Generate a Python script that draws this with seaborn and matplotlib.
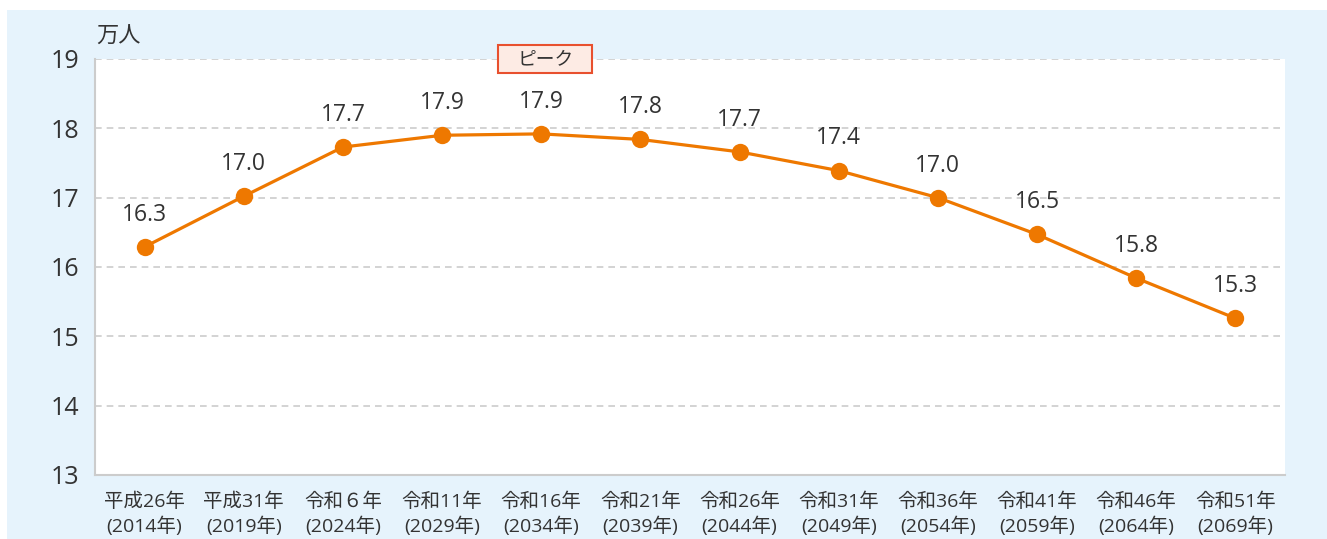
import numpy as np
import pandas as pd
import matplotlib
matplotlib.use("Agg")
import matplotlib.pyplot as plt
from matplotlib.patches import Rectangle
import seaborn as sns

# データ（万人）
labels = ["平成26年\n(2014年)", "平成31年\n(2019年)", "令和６年\n(2024年)", "令和11年\n(2029年)",
          "令和16年\n(2034年)", "令和21年\n(2039年)", "令和26年\n(2044年)", "令和31年\n(2049年)",
          "令和36年\n(2054年)", "令和41年\n(2059年)", "令和46年\n(2064年)", "令和51年\n(2069年)"]
values = [16.29, 17.02, 17.73, 17.90, 17.92, 17.84, 17.66, 17.39, 17.00, 16.47, 15.84, 15.26]
yticks = [13, 14, 15, 16, 17, 18, 19]
peak_idx = 4

df = pd.DataFrame({"x": np.arange(len(values)), "v": values})

sns.set_style("white")
plt.rcParams['font.family'] = ['Open Sans', 'Noto Sans CJK JP', 'DejaVu Sans']
text_c = "#333333"
orange = "#EE7800"
grid_c = "#CCCCCC"

fig = plt.figure(figsize=(13.27, 5.39), dpi=100)
fig.patch.set_facecolor("white")
fig.patches.append(Rectangle((7 / 1327, 0), 1 - 7 / 1327, 1 - 10 / 539,
                             transform=fig.transFigure, facecolor="#E6F3FC",
                             edgecolor="none", zorder=-10))

ax = fig.add_axes([95 / 1327, 64 / 539, 1190 / 1327, 416 / 539])
ax.set_facecolor("white")

sns.lineplot(data=df, x="x", y="v", ax=ax, color=orange, linewidth=2.3,
             marker="o", markersize=12.5, markeredgewidth=0, zorder=3)

for i, v in enumerate(values):
    ax.annotate(f"{v:.1f}", (i, v), xytext=(0, 14.5), textcoords="offset points",
                ha="center", va="bottom", fontsize=16.5, color=text_c)

ax.set_xlim(-0.5, len(values) - 0.5)
ax.set_ylim(13, 19)
ax.set_yticks(yticks)
ax.set_yticklabels([str(t) for t in yticks], fontsize=18, color=text_c)
ax.set_xticks(np.arange(len(values)))
ax.set_xticklabels(labels, fontsize=14, color=text_c, linespacing=1.35)
ax.set_xticks(np.arange(-0.5, len(values)), minor=True)
ax.tick_params(axis="x", which="major", length=0, pad=13)
ax.tick_params(axis="x", which="minor", length=6, color=grid_c, width=1.2)
ax.tick_params(axis="y", length=7, color=grid_c, width=1.2, pad=4)
ax.set_xlabel("")
ax.set_ylabel("")

for t in yticks[1:]:
    ax.axhline(t, color=grid_c, linestyle=(0, (4, 3)), linewidth=1.2, zorder=1)

for s in ["top", "right"]:
    ax.spines[s].set_visible(False)
for s in ["left", "bottom"]:
    ax.spines[s].set_color(grid_c)
    ax.spines[s].set_linewidth(1.5)

ax.text(-0.49, 19.16, "万人", fontsize=16, color=text_c, ha="left", va="bottom")

# ピーク ラベル
ax.add_patch(Rectangle((peak_idx + 0.04 - 0.474, 18.8), 0.948, 0.404, facecolor="#FDEBE4",
                       edgecolor="#E8502E", linewidth=1.5, zorder=5, clip_on=False))
ax.text(peak_idx + 0.04, 19.0, "ピーク", fontsize=13.5, color=text_c, ha="center", va="center",
        zorder=6, clip_on=False)

fig.savefig("out.png", dpi=100)
